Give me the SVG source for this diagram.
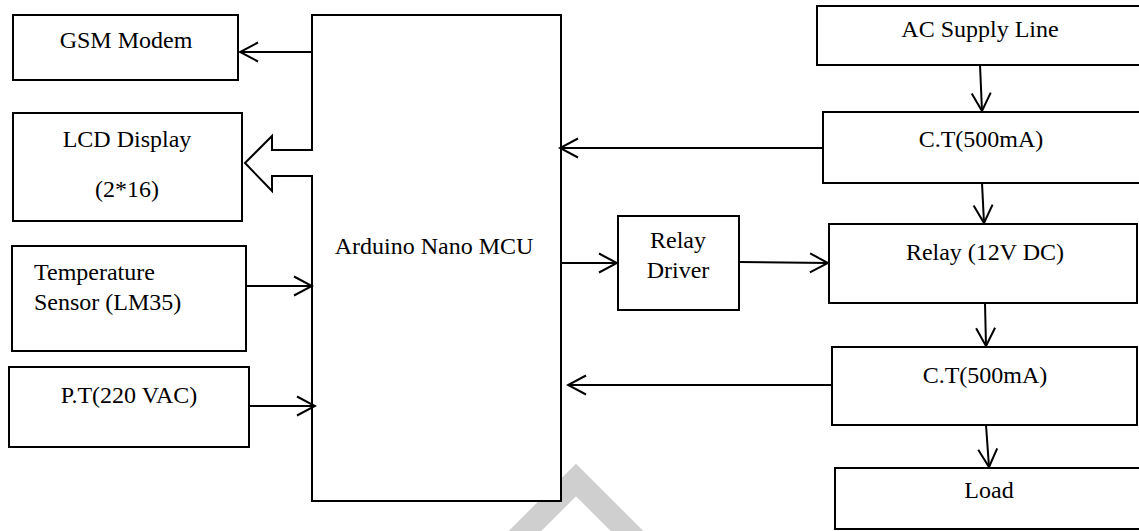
<svg xmlns="http://www.w3.org/2000/svg" width="1139" height="531" viewBox="0 0 1139 531">
<style>
.box{fill:#fff;stroke:#000;stroke-width:2}
.c{text-anchor:middle}
.ln{stroke:#000;stroke-width:2;fill:none}
</style>
<defs>
<marker id="ah" viewBox="-20 -12 22 24" markerWidth="22" markerHeight="24" refX="0" refY="0" markerUnits="userSpaceOnUse" orient="auto">
<path d="M-18,-9.5 L0,0 L-18,9.5" fill="none" stroke="#000" stroke-width="2"/>
</marker>
</defs>
<rect width="1139" height="531" fill="#fff"/>
<polyline points="466,590 576,480 686,590" fill="none" stroke="#cfcfcf" stroke-width="23"/>
<g font-family="Liberation Serif, Times New Roman, DejaVu Serif, serif" font-size="24" fill="#000">
<g id="gsm"><rect class="box" x="13" y="15" width="225" height="65"/><text class="c" x="126" y="48">GSM Modem</text></g>
<g id="lcd"><rect class="box" x="13" y="113" width="229" height="108"/><text class="c" x="127" y="147">LCD Display</text><text class="c" x="127" y="197">(2*16)</text></g>
<g id="temp"><rect class="box" x="12" y="246" width="234" height="105"/><text x="34" y="280">Temperature</text><text x="34" y="310">Sensor (LM35)</text></g>
<g id="pt"><rect class="box" x="9" y="367" width="240" height="80"/><text class="c" x="129" y="403">P.T(220 VAC)</text></g>
<g id="mcu"><rect class="box" x="312" y="15" width="249" height="486"/><text class="c" x="434" y="254">Arduino Nano MCU</text></g>
<g id="driver"><rect class="box" x="618" y="216" width="121" height="94"/><text class="c" x="678" y="248">Relay</text><text class="c" x="678" y="278">Driver</text></g>
<g id="ac"><rect class="box" x="817" y="6" width="340" height="59"/><text class="c" x="980" y="37">AC Supply Line</text></g>
<g id="ct1"><rect class="box" x="823" y="112" width="340" height="71"/><text class="c" x="981" y="147">C.T(500mA)</text></g>
<g id="relay"><rect class="box" x="829" y="224" width="308" height="79"/><text class="c" x="985" y="260">Relay (12V DC)</text></g>
<g id="ct2"><rect class="box" x="832" y="347" width="305" height="78"/><text class="c" x="985" y="383">C.T(500mA)</text></g>
<g id="load"><rect class="box" x="835" y="468" width="330" height="61"/><text class="c" x="989" y="498">Load</text></g>
</g>
<g id="connectors">
<line class="ln" x1="313" y1="52" x2="240" y2="52" marker-end="url(#ah)"/>
<path d="M313,150 H272 V136 L245,163 L272,191 V176 H313" fill="#fff" stroke="#000" stroke-width="2"/>
<line class="ln" x1="246" y1="286" x2="312" y2="286" marker-end="url(#ah)"/>
<line class="ln" x1="249" y1="406" x2="315" y2="406" marker-end="url(#ah)"/>
<line class="ln" x1="823" y1="148" x2="560" y2="148" marker-end="url(#ah)"/>
<line class="ln" x1="832" y1="385" x2="568" y2="385" marker-end="url(#ah)"/>
<line class="ln" x1="561" y1="263" x2="617" y2="263" marker-end="url(#ah)"/>
<line class="ln" x1="739" y1="262" x2="828" y2="263" marker-end="url(#ah)"/>
<line class="ln" x1="980" y1="65" x2="982" y2="111" marker-end="url(#ah)"/>
<line class="ln" x1="982" y1="183" x2="984" y2="223" marker-end="url(#ah)"/>
<line class="ln" x1="985" y1="303" x2="986" y2="346" marker-end="url(#ah)"/>
<line class="ln" x1="986" y1="425" x2="989" y2="467" marker-end="url(#ah)"/>
</g>
</svg>
